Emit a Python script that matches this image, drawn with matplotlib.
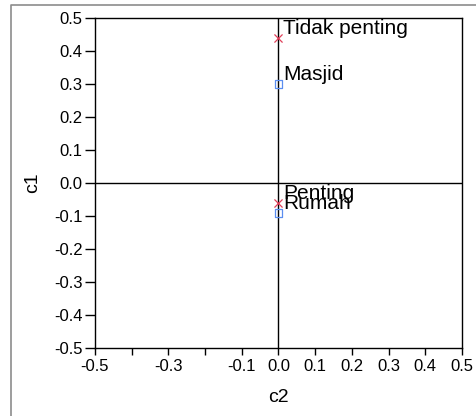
import matplotlib
matplotlib.use("Agg")
import matplotlib.pyplot as plt
from matplotlib.lines import Line2D
import numpy as np

plt.rcParams['font.family'] = ['Liberation Sans', 'DejaVu Sans']

# Data
row_labels = ["Masjid", "Rumah"]
row_c2 = [0.0, 0.0]
row_c1 = [0.30, -0.09]
col_labels = ["Tidak penting", "Penting"]
col_c2 = [0.0, 0.0]
col_c1 = [0.44, -0.06]

xticks = [-0.5, -0.4, -0.3, -0.2, -0.1, 0.0, 0.1, 0.2, 0.3, 0.4, 0.5]
xticklabels = ["-0.5", "", "-0.3", "", "-0.1", "0.0", "0.1", "0.2", "0.3", "0.4", "0.5"]
yticks = [-0.5, -0.4, -0.3, -0.2, -0.1, 0.0, 0.1, 0.2, 0.3, 0.4, 0.5]
yticklabels = ["-0.5", "-0.4", "-0.3", "-0.2", "-0.1", "0.0", "0.1", "0.2", "0.3", "0.4", "0.5"]

W, H = 477, 416
fig = plt.figure(figsize=(W / 100, H / 100), dpi=100)
L, R, T, B = 95, 462, 18, 348
ax = fig.add_axes([L / W, 1 - B / H, (R - L) / W, (B - T) / H])

ax.set_xlim(-0.5, 0.5)
ax.set_ylim(-0.5, 0.5)
ax.axhline(0, color='black', lw=1.0, zorder=1)
ax.axvline(0, color='black', lw=1.0, zorder=1)

ax.scatter(col_c2, col_c1, marker='x', s=34, color='#e0405a', linewidths=0.9, zorder=3)
ax.scatter(row_c2, row_c1, marker='s', s=30, facecolors='none', edgecolors='#5b8ef0',
           linewidths=0.9, zorder=3)

for lab, x, y in zip(col_labels + row_labels, col_c2 + row_c2, col_c1 + row_c1):
    ax.annotate(lab, (x, y), xytext=(3.4, 2.9), textcoords='offset points',
                fontsize=15, ha='left', va='baseline', color='black')

ax.set_xticks(xticks)
ax.set_xticklabels(xticklabels)
ax.set_yticks(yticks)
ax.set_yticklabels(yticklabels)
ax.tick_params(axis='x', direction='out', length=5, width=1, color='black',
               labelsize=12, pad=3)
ax.tick_params(axis='y', direction='out', length=7, width=1, color='black',
               labelsize=12, pad=2)
for s in ax.spines.values():
    s.set_linewidth(1.0)
    s.set_color('black')

ax.set_xlabel("c2", fontsize=14, labelpad=11)
ax.set_ylabel("c1", fontsize=14, labelpad=9)

# outer gray frame (top & left visible)
fig.add_artist(Line2D([11 / W, 11 / W, 1.0], [0.0, 1 - 5 / H, 1 - 5 / H],
                      transform=fig.transFigure, color='#8c8c8c', lw=1.2))

fig.savefig("out.png", dpi=100)
